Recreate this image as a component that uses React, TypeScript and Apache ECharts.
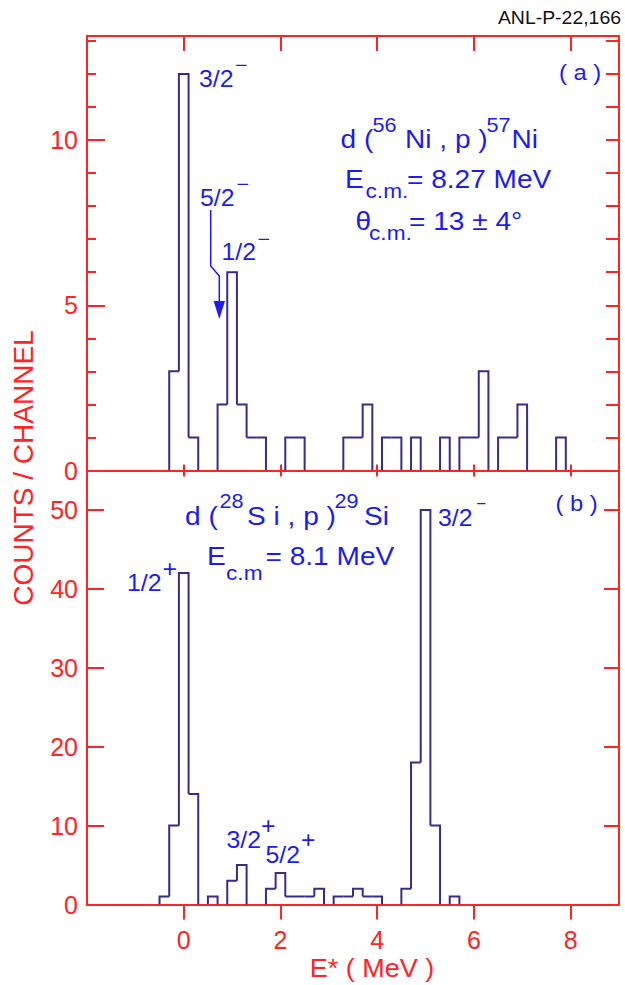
import React, { useEffect, useRef } from "react";
import * as echarts from "echarts";

// ---- data ----
const BIN_WIDTH = 0.2;
// (a) d(56Ni,p)57Ni — non-empty bins: centre (MeV) and counts
const topCenters = [-0.2, 0.0, 0.2, 0.8, 1.0, 1.2, 1.4, 1.6, 2.2, 2.4, 3.4, 3.6, 3.8, 4.2, 4.4, 4.8, 5.4, 5.8, 6.0, 6.2, 6.6, 6.8, 7.0, 7.8];
const topCounts = [3, 12, 1, 2, 6, 2, 1, 1, 1, 1, 1, 1, 2, 1, 1, 1, 1, 1, 1, 3, 1, 1, 2, 1];
// (b) d(28Si,p)29Si
const botCenters = [-0.4, -0.2, 0.0, 0.2, 0.6, 1.0, 1.2, 1.8, 2.0, 2.2, 2.4, 2.6, 2.8, 3.2, 3.4, 3.6, 3.8, 4.0, 4.6, 4.8, 5.0, 5.2, 5.6];
const botCounts = [1, 10, 42, 14, 1, 3, 5, 2, 4, 1, 1, 1, 2, 1, 1, 2, 1, 1, 2, 18, 50, 10, 1];

const xTickValues = [0, 2, 4, 6, 8];
const topYLabels = [0, 5, 10];
const topYMinor = [1, 2, 3, 4, 6, 7, 8, 9, 11, 12, 13];
const topYAll = [1, 2, 3, 4, 5, 6, 7, 8, 9, 10, 11, 12, 13];
const botYLabels = [0, 10, 20, 30, 40, 50];

const RED = "#ff2424";
const PURPLE = "#3b2a88";
const BLUE = "#1c1cf0";
const FONT = '"Liberation Sans", Arial, Helvetica, sans-serif';

function buildHist(centers: number[], counts: number[]) {
  const find = (c: number) => {
    for (let i = 0; i < centers.length; i++) {
      if (Math.abs(centers[i] - c) < 1e-6) return counts[i];
    }
    return 0;
  };
  return centers.map((c, i) => [c, counts[i], find(c - BIN_WIDTH), find(c + BIN_WIDTH)]);
}

const renderHist = (params: any, api: any) => {
  const c = api.value(0);
  const v = api.value(1);
  const p = api.value(2);
  const n = api.value(3);
  const h = BIN_WIDTH / 2;
  const pts: number[][] = [];
  if (v > p) pts.push(api.coord([c - h, p]));
  pts.push(api.coord([c - h, v]));
  pts.push(api.coord([c + h, v]));
  if (v > n) pts.push(api.coord([c + h, n]));
  return {
    type: "polyline",
    shape: { points: pts },
    style: { stroke: PURPLE, lineWidth: 2, fill: "none" },
  };
};

function txt(text: string, x: number, y: number, size: number, color: string, opts: any = {}) {
  return {
    type: "text",
    x,
    y,
    scaleX: opts.scaleX ?? 1.08,
    rotation: opts.rotation ?? 0,
    z: 10,
    style: {
      text,
      fill: color,
      fontSize: size,
      fontFamily: FONT,
      align: opts.align ?? "left",
      verticalAlign: "middle",
    },
  };
}

export default function App() {
  const ref = useRef<HTMLDivElement>(null);

  useEffect(() => {
    if (!ref.current) return;
    const chart = echarts.init(ref.current, null, { renderer: "svg" });

    const axisLine = { show: true, onZero: false, lineStyle: { color: RED, width: 2 } };
    const xBase = { type: "value", min: -2, max: 9, splitLine: { show: false }, axisLine };

    const option: any = {
      animation: false,
      textStyle: { fontFamily: FONT },
      grid: [
        { left: 87, top: 36, width: 532, height: 434.5 },
        { left: 87, top: 470.5, width: 532, height: 434 },
      ],
      xAxis: [
        { ...xBase, gridIndex: 0, position: "bottom", axisTick: { show: true, inside: true, length: 6, customValues: xTickValues, lineStyle: { color: RED, width: 2 } }, axisLabel: { show: false } },
        { ...xBase, gridIndex: 0, position: "top", axisTick: { show: true, inside: true, length: 15, customValues: xTickValues, lineStyle: { color: RED, width: 2 } }, axisLabel: { show: false } },
        {
          ...xBase, gridIndex: 1, position: "bottom",
          axisTick: { show: true, inside: false, length: 15, customValues: xTickValues, lineStyle: { color: RED, width: 2 } },
          axisLabel: { show: true, customValues: xTickValues, color: RED, fontSize: 25, margin: 23, fontFamily: FONT },
        },
        { ...xBase, gridIndex: 1, position: "top", axisTick: { show: true, inside: true, length: 6, customValues: xTickValues, lineStyle: { color: RED, width: 2 } }, axisLabel: { show: false } },
      ],
      yAxis: [
        {
          type: "value", gridIndex: 0, position: "left", min: 0, max: 13.15, splitLine: { show: false }, axisLine,
          axisTick: { show: true, inside: true, length: 18, customValues: topYLabels, lineStyle: { color: RED, width: 2 } },
          axisLabel: { show: true, customValues: topYLabels, color: RED, fontSize: 25, margin: 9, fontFamily: FONT },
        },
        {
          type: "value", gridIndex: 0, position: "left", min: 0, max: 13.15, splitLine: { show: false }, axisLine,
          axisTick: { show: true, inside: true, length: 9, customValues: topYMinor, lineStyle: { color: RED, width: 2 } },
          axisLabel: { show: false },
        },
        {
          type: "value", gridIndex: 0, position: "right", min: 0, max: 13.15, splitLine: { show: false }, axisLine,
          axisTick: { show: true, inside: true, length: 13, customValues: topYAll, lineStyle: { color: RED, width: 2 } },
          axisLabel: { show: false },
        },
        {
          type: "value", gridIndex: 1, position: "left", min: 0, max: 55, splitLine: { show: false }, axisLine,
          axisTick: { show: true, inside: true, length: 17, customValues: botYLabels, lineStyle: { color: RED, width: 2 } },
          axisLabel: { show: true, customValues: botYLabels, color: RED, fontSize: 25, margin: 9, fontFamily: FONT },
        },
        {
          type: "value", gridIndex: 1, position: "right", min: 0, max: 55, splitLine: { show: false }, axisLine,
          axisTick: { show: true, inside: true, length: 15, customValues: botYLabels, lineStyle: { color: RED, width: 2 } },
          axisLabel: { show: false },
        },
      ],
      series: [
        { type: "custom", xAxisIndex: 0, yAxisIndex: 0, renderItem: renderHist, data: buildHist(topCenters, topCounts), clip: true, z: 3 },
        { type: "custom", xAxisIndex: 2, yAxisIndex: 3, renderItem: renderHist, data: buildHist(botCenters, botCounts), clip: true, z: 3 },
      ],
      graphic: [
        // header
        txt("ANL-P-22,166", 621, 18, 18, "#111111", { align: "right" }),
        // axis titles
        txt("COUNTS / CHANNEL", 23, 468, 28, RED, { align: "center", rotation: Math.PI / 2, scaleX: 1 }),
        txt("E* ( MeV )", 372, 968, 25, RED, { align: "center" }),
        // panel (a)
        txt("( a )", 559, 72, 22, BLUE),
        txt("3/2", 199, 79, 23, BLUE),
        txt("\u2212", 235, 65, 20, BLUE),
        txt("5/2", 200, 197.5, 23, BLUE),
        txt("\u2212", 236.5, 184, 20, BLUE),
        txt("1/2", 221.5, 251.5, 23, BLUE),
        txt("\u2212", 257.5, 239, 20, BLUE),
        txt("d (", 340.5, 139, 26, BLUE),
        txt("56", 372.5, 124.5, 20, BLUE),
        txt("Ni , p )", 405, 139, 26, BLUE),
        txt("57", 486.5, 124.5, 20, BLUE),
        txt("Ni", 511.5, 139, 26, BLUE),
        txt("E", 345, 179, 26, BLUE),
        txt("c.m.", 365.5, 191, 21, BLUE),
        txt("= 8.27 MeV", 407, 179, 26, BLUE),
        txt("\u03b8", 355.5, 221, 26, BLUE),
        txt("c.m.", 369, 232.6, 21, BLUE),
        txt("= 13 \u00b1 4\u00b0", 409, 221, 26, BLUE),
        {
          type: "polyline", z: 10,
          shape: { points: [[210.7, 210], [210.7, 266], [219.3, 276], [219.3, 303]] },
          style: { stroke: BLUE, lineWidth: 1.5, fill: "none" },
        },
        {
          type: "polygon", z: 10,
          shape: { points: [[213.6, 301], [225, 301], [219.3, 319]] },
          style: { fill: BLUE },
        },
        // panel (b)
        txt("( b )", 555.5, 503.3, 22, BLUE),
        txt("d (", 185, 516, 26, BLUE),
        txt("28", 219.5, 500.5, 20, BLUE),
        txt("S i , p )", 247, 516, 26, BLUE),
        txt("29", 334.5, 500.5, 20, BLUE),
        txt("Si", 364, 516, 26, BLUE),
        txt("E", 207, 556, 26, BLUE),
        txt("c.m", 226, 572.5, 21, BLUE),
        txt("= 8.1 MeV", 265.5, 556, 26, BLUE),
        txt("1/2", 127, 583, 23, BLUE),
        txt("+", 162.5, 569, 23, BLUE),
        txt("3/2", 226.5, 840, 23, BLUE),
        txt("+", 261, 826, 23, BLUE),
        txt("5/2", 265.5, 855, 23, BLUE),
        txt("+", 301, 840, 23, BLUE),
        txt("3/2", 438, 518, 23, BLUE),
        txt("\u2212", 476, 503.5, 16, BLUE),
      ],
    };

    chart.setOption(option);
    return () => chart.dispose();
  }, []);

  return (
    <div
      ref={ref}
      style={{ position: "fixed", left: 0, top: 0, width: 625, height: 985, background: "#ffffff" }}
    />
  );
}
